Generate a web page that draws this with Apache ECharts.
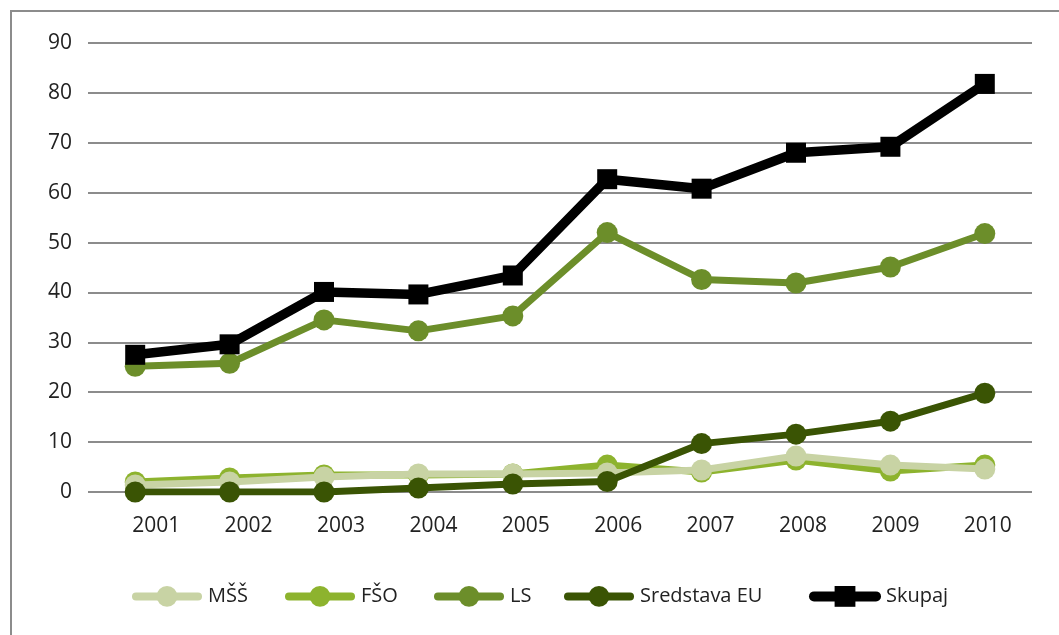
<!DOCTYPE html>
<html>
<head>
<meta charset="utf-8">
<script src="https://cdn.jsdelivr.net/npm/echarts@6/dist/echarts.min.js"></script>
<style>
  html, body { margin: 0; padding: 0; background: #fff; }
  #frame { position: absolute; left: 10px; top: 10px; width: 1100px; height: 700px; border: 2px solid #8c8c8c; box-sizing: border-box; }
  #chart { position: absolute; left: 0; top: 0; width: 1059px; height: 635px; }
</style>
</head>
<body>
<div id="frame"></div>
<div id="chart"></div>
<script>
const years = ['2001', '2002', '2003', '2004', '2005', '2006', '2007', '2008', '2009', '2010']
const names = ['MŠŠ', 'FŠO', 'LS', 'Sredstava EU', 'Skupaj']
const mss = [1.4, 2.0, 3.0, 3.6, 3.6, 3.8, 4.4, 7.2, 5.4, 4.6]
const fso = [2.0, 2.8, 3.4, 3.4, 3.6, 5.4, 4.0, 6.4, 4.2, 5.4]
const ls = [25.2, 25.8, 34.5, 32.3, 35.3, 52.0, 42.6, 41.9, 45.1, 51.8]
const eu = [0, 0, 0, 0.8, 1.6, 2.1, 9.7, 11.6, 14.2, 19.8]
const skupaj = [27.5, 29.6, 40.1, 39.6, 43.4, 62.7, 60.8, 68.0, 69.2, 81.8]

const font = '"Open Sans", "Noto Sans", sans-serif'
// left edge of each legend icon
const legendLeft = [127, 280, 429, 559, 804]

function lineSeries(name, data, color, z) {
  return {
    name: name,
    type: 'line',
    data: data,
    symbol: 'circle',
    symbolSize: 21,
    z: z,
    lineStyle: { color: color, width: 7 },
    itemStyle: { color: color },
    emphasis: { disabled: true }
  }
}

const legends = names.map((n, i) => ({
  data: [n],
  left: legendLeft[i],
  top: 581,
  itemWidth: 62,
  itemHeight: 26,
  itemGap: 0,
  lineStyle: { width: n === 'Skupaj' ? 10 : 8, cap: 'round' },
  textStyle: { fontFamily: font, fontSize: 20, color: '#222', padding: [0, 0, 0, 5] }
}))

const chart = echarts.init(document.getElementById('chart'))
chart.setOption({
  animation: false,
  textStyle: { fontFamily: font },
  grid: [
    { left: 88, right: 27, top: 43, bottom: 143 },
    { left: 110, right: 25, top: 43, bottom: 143 }
  ],
  legend: legends,
  xAxis: [
    {
      type: 'category',
      data: years,
      axisLine: { show: false },
      axisTick: { show: false },
      axisLabel: { show: false }
    },
    {
      // label-only axis (labels sit slightly right of the points, as in the source)
      type: 'category',
      gridIndex: 1,
      data: years,
      axisLine: { show: false },
      axisTick: { show: false },
      axisLabel: { fontSize: 21, color: '#222', margin: 24 }
    }
  ],
  yAxis: [
    {
      type: 'value',
      min: 0,
      max: 90,
      interval: 10,
      axisLine: { show: false },
      axisTick: { show: false },
      axisLabel: { fontSize: 21, color: '#222', margin: 16 },
      splitLine: { lineStyle: { color: '#8c8c8c', width: 2 } }
    },
    {
      type: 'value',
      gridIndex: 1,
      min: 0,
      max: 90,
      show: false
    }
  ],
  series: [
    lineSeries('FŠO', fso, '#8db32e', 2),
    lineSeries('MŠŠ', mss, '#c8d3a4', 3),
    lineSeries('LS', ls, '#6c8e2a', 4),
    lineSeries('Sredstava EU', eu, '#3a5404', 5),
    {
      name: 'Skupaj',
      type: 'line',
      data: skupaj,
      symbol: 'rect',
      symbolSize: 20,
      z: 6,
      lineStyle: { color: '#000', width: 9.5 },
      itemStyle: { color: '#000' },
      emphasis: { disabled: true }
    }
  ]
})
</script>
</body>
</html>
